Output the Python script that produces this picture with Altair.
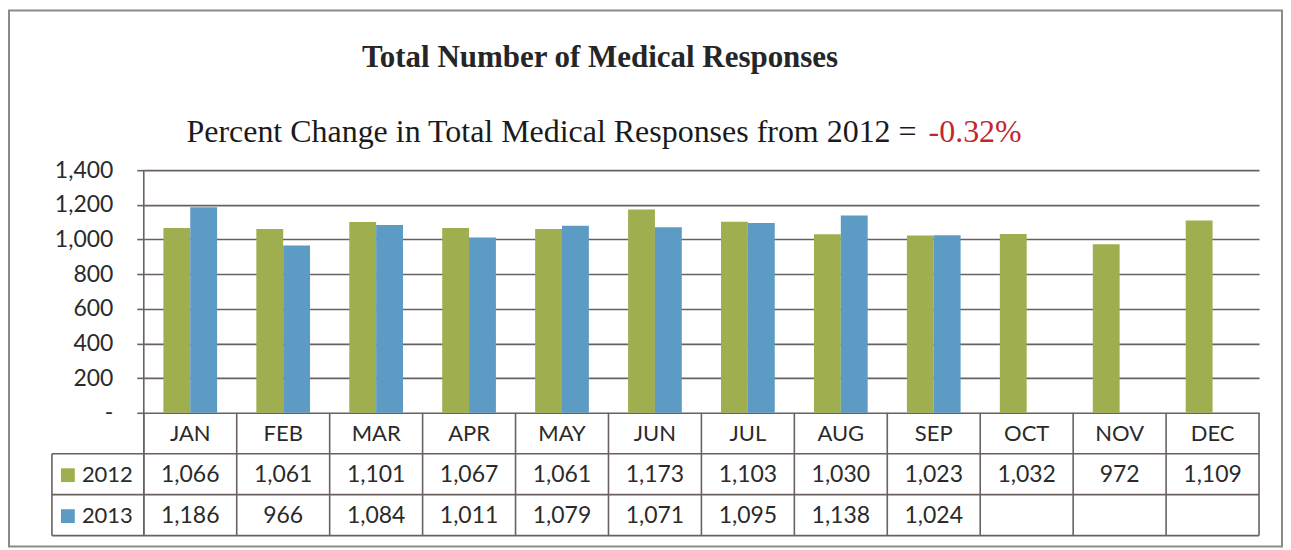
import altair as alt
import pandas as pd

months = ["JAN", "FEB", "MAR", "APR", "MAY", "JUN", "JUL", "AUG", "SEP", "OCT", "NOV", "DEC"]
years = ["2012", "2013"]
v2012 = [1066, 1061, 1101, 1067, 1061, 1173, 1103, 1030, 1023, 1032, 972, 1109]
v2013 = [1186, 966, 1084, 1011, 1079, 1071, 1095, 1138, 1024]
y_ticks = [0, 200, 400, 600, 800, 1000, 1200, 1400]
title_text = "Total Number of Medical Responses"
sub_text = "Percent Change in Total Medical Responses from 2012 ="
sub_value = "-0.32%"

GREEN = "#9fae4e"
BLUE = "#5b9bc4"
LINE = "#6a6060"
TXT = "#2a2a2a"
SANS = "Lato"
SERIF = "Liberation Serif"

W = 1117
PLOT_H = 243
ROW1, ROW2, ROW3 = 284, 325, 366

rows = []
for m, v in zip(months, v2012):
    rows.append({"month": m, "year": "2012", "value": v})
for m, v in zip(months, v2013):
    rows.append({"month": m, "year": "2013", "value": v})
df = pd.DataFrame(rows)
mdf = pd.DataFrame({"month": months})

xdef = alt.X("month:N", sort=months, scale=alt.Scale(paddingInner=0, paddingOuter=0), axis=None)
color = alt.Color("year:N", scale=alt.Scale(domain=years, range=[GREEN, BLUE]), legend=None)

bars = alt.Chart(df).mark_bar().encode(
    x=xdef,
    xOffset=alt.XOffset("year:N", sort=years, scale=alt.Scale(paddingInner=0, paddingOuter=0.73)),
    y=alt.Y(
        "value:Q",
        scale=alt.Scale(domain=[0, 1400], range=[PLOT_H, 0]),
        axis=alt.Axis(
            values=y_ticks, title=None, domain=False, grid=True, gridColor=LINE, gridWidth=1.6,
            ticks=True, tickSize=7, tickColor=LINE, tickWidth=1.6, labelPadding=24,
            labelFont=SANS, labelFontSize=23, labelColor=TXT,
            labelExpr="datum.value == 0 ? '-' : format(datum.value, ',')",
        ),
    ),
    color=color,
)

# table texts
month_text = alt.Chart(mdf).mark_text(font=SANS, fontSize=22, color=TXT).encode(
    x=alt.X("month:N", sort=months, axis=None), y=alt.value((PLOT_H + ROW1) / 2 + 1), text="month:N"
)
t2012 = alt.Chart(df[df.year == "2012"]).mark_text(font=SANS, fontSize=23, color=TXT).encode(
    x=alt.X("month:N", sort=months, axis=None), y=alt.value((ROW1 + ROW2) / 2 + 1),
    text=alt.Text("value:Q", format=","),
)
t2013 = alt.Chart(df[df.year == "2013"]).mark_text(font=SANS, fontSize=23, color=TXT).encode(
    x=alt.X("month:N", sort=months, axis=None), y=alt.value((ROW2 + ROW3) / 2 + 1),
    text=alt.Text("value:Q", format=","),
)

# row labels with legend squares
ydf = pd.DataFrame({"year": years})
sq1 = alt.Chart(ydf[ydf.year == "2012"]).mark_square(size=190, opacity=1).encode(
    x=alt.value(-76), y=alt.value((ROW1 + ROW2) / 2 + 1), color=color)
sq2 = alt.Chart(ydf[ydf.year == "2013"]).mark_square(size=190, opacity=1).encode(
    x=alt.value(-76), y=alt.value((ROW2 + ROW3) / 2 + 1), color=color)
lab1 = alt.Chart(ydf[ydf.year == "2012"]).mark_text(font=SANS, fontSize=22, color=TXT, align="left").encode(
    x=alt.value(-62), y=alt.value((ROW1 + ROW2) / 2 + 1), text="year:N")
lab2 = alt.Chart(ydf[ydf.year == "2013"]).mark_text(font=SANS, fontSize=22, color=TXT, align="left").encode(
    x=alt.value(-62), y=alt.value((ROW2 + ROW3) / 2 + 1), text="year:N")

# table lines
vrules = alt.Chart(mdf).mark_rule(color=LINE, strokeWidth=1.6).encode(
    x=alt.X("month:N", sort=months, axis=None, bandPosition=0), y=alt.value(PLOT_H), y2=alt.value(ROW3))
rule_left = alt.Chart(mdf.head(1)).mark_rule(color=LINE, strokeWidth=1.6).encode(
    x=alt.value(0), y=alt.value(0), y2=alt.value(ROW3))
rule_right = alt.Chart(mdf.head(1)).mark_rule(color=LINE, strokeWidth=1.6).encode(
    x=alt.value(W), y=alt.value(PLOT_H), y2=alt.value(ROW3))
rule_tleft = alt.Chart(mdf.head(1)).mark_rule(color=LINE, strokeWidth=1.6).encode(
    x=alt.value(-92), y=alt.value(ROW1), y2=alt.value(ROW3))
hr1 = alt.Chart(mdf.head(1)).mark_rule(color=LINE, strokeWidth=1.6).encode(
    x=alt.value(-92), x2=alt.value(W), y=alt.value(ROW1))
hr2 = alt.Chart(mdf.head(1)).mark_rule(color=LINE, strokeWidth=1.6).encode(
    x=alt.value(-92), x2=alt.value(W), y=alt.value(ROW2))
hr3 = alt.Chart(mdf.head(1)).mark_rule(color=LINE, strokeWidth=1.6).encode(
    x=alt.value(-92), x2=alt.value(W), y=alt.value(ROW3))

# frame
frame = alt.Chart(mdf.head(1)).mark_rect(fillOpacity=0, stroke="#8a8a8a", strokeWidth=2).encode(
    x=alt.value(-135), x2=alt.value(1140), y=alt.value(-160), y2=alt.value(377))

# titles
title = alt.Chart(pd.DataFrame({"t": [title_text]})).mark_text(
    font=SERIF, fontSize=31, fontWeight="bold", color="#262626", align="center", baseline="alphabetic"
).encode(x=alt.value(457), y=alt.value(-103), text="t:N")
sub1 = alt.Chart(pd.DataFrame({"t": [sub_text]})).mark_text(
    font=SERIF, fontSize=32, color="#1a1a1a", align="right", baseline="alphabetic"
).encode(x=alt.value(774), y=alt.value(-28), text="t:N")
sub2 = alt.Chart(pd.DataFrame({"t": [sub_value]})).mark_text(
    font=SERIF, fontSize=32, color="#c0282d", align="left", baseline="alphabetic"
).encode(x=alt.value(786), y=alt.value(-28), text="t:N")

chart = alt.layer(
    frame, bars, vrules, rule_left, rule_right, rule_tleft, hr1, hr2, hr3,
    month_text, t2012, t2013, sq1, sq2, lab1, lab2, title, sub1, sub2,
).properties(
    width=W, height=ROW3,
    padding={"left": 136, "top": 162, "right": 24, "bottom": 12},
    autosize=alt.AutoSizeParams(type="none"),
    background="white",
).configure_view(strokeWidth=0)

chart.save("out.html", embed_options={"renderer": "svg", "actions": False})
